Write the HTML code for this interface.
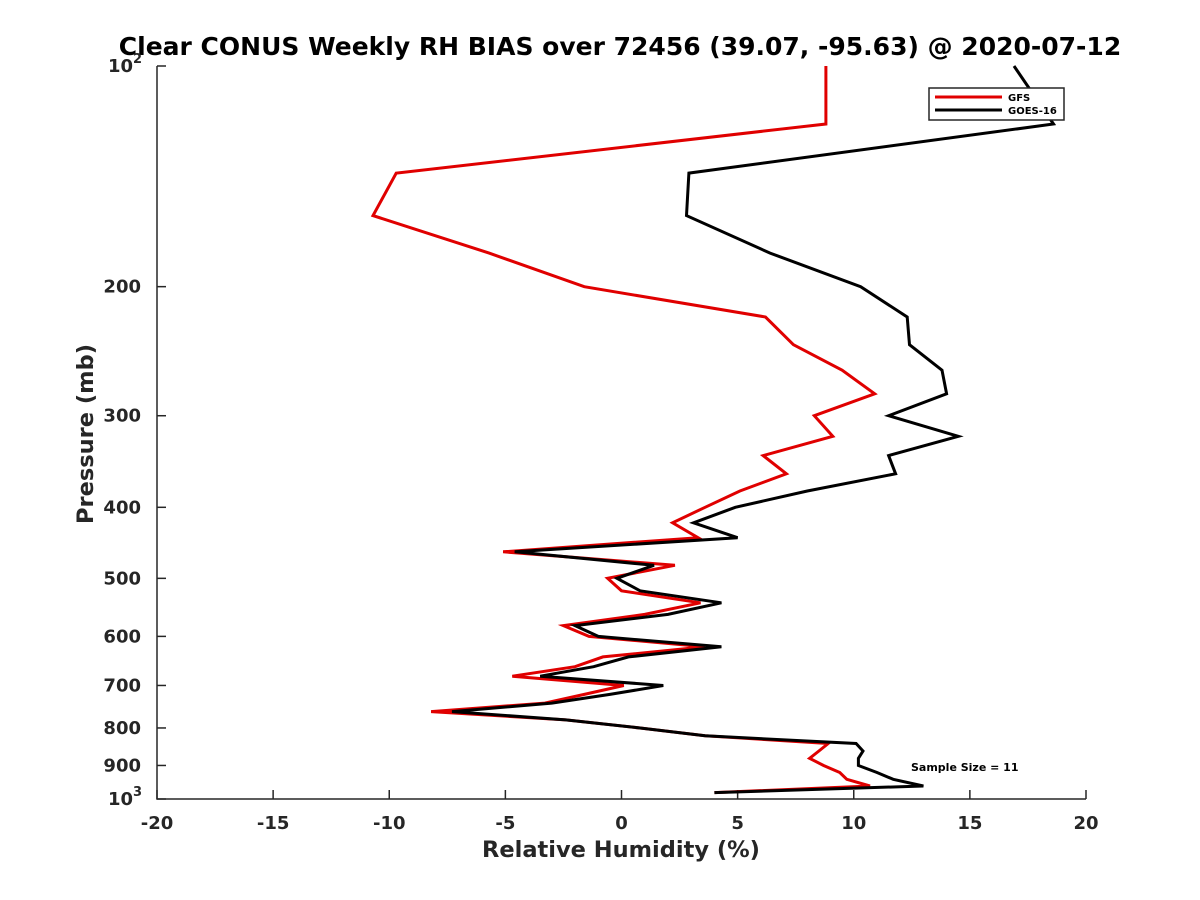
<!DOCTYPE html>
<html><head><meta charset="utf-8"><style>
body{margin:0;background:#fff;}
svg{display:block;font-family:"DejaVu Sans","Liberation Sans",sans-serif;font-weight:bold;}
</style></head><body>
<svg id="chart" width="1200" height="900" viewBox="0 0 1200 900" xmlns="http://www.w3.org/2000/svg">
<rect width="1200" height="900" fill="#fff"/>
<text x="620" y="55" text-anchor="middle" font-size="25" fill="#000">Clear CONUS Weekly RH BIAS over 72456 (39.07, -95.63) @ 2020-07-12</text>
<g id="axes"></g>
<g id="series"></g>
<text x="621" y="857" text-anchor="middle" font-size="22.5" fill="#262626">Relative Humidity (%)</text>
<text transform="translate(93,434) rotate(-90)" text-anchor="middle" font-size="22.5" fill="#262626">Pressure (mb)</text>
<text x="911" y="771" font-size="11" fill="#000">Sample Size = 11</text>
<g>
<rect x="929" y="88" width="135" height="32" fill="#fff" stroke="#262626" stroke-width="1.5"/>
<g>
<line x1="935" y1="97" x2="1002" y2="97" stroke="#e00000" stroke-width="3"/>
<text x="1008" y="101" font-size="10" fill="#000">GFS</text></g>
<g>
<line x1="935" y1="110" x2="1002" y2="110" stroke="#000" stroke-width="3"/>
<text x="1008" y="114" font-size="10" fill="#000">GOES-16</text></g>
</g>
</svg>
<script>
const pressure=[100,120,140,160,180,200,220,240,260,280,300,320,340,360,380,400,420,440,460,480,500,520,540,560,580,600,620,640,660,680,700,720,740,760,780,800,820,840,860,880,900,920,940,960,980];
const gfsBias=[8.8,8.8,-9.7,-10.7,-5.7,-1.6,6.2,7.4,9.5,10.9,8.3,9.1,6.1,7.1,5.1,3.6,2.2,3.3,-5.1,2.3,-0.6,0.0,3.4,1.0,-2.5,-1.4,3.6,-0.8,-2.0,-4.7,0.1,-1.6,-3.3,-8.2,-2.4,0.8,3.6,8.9,8.5,8.1,8.7,9.4,9.7,10.7,4.0];
const goesBias=[16.9,18.6,2.9,2.8,6.4,10.3,12.3,12.4,13.8,14.0,11.5,14.5,11.5,11.8,8.0,4.9,3.1,5.0,-4.6,1.4,-0.2,0.8,4.3,2.0,-2.0,-1.0,4.3,0.3,-1.2,-3.5,1.8,-0.5,-3.0,-7.3,-2.4,0.8,3.6,10.1,10.4,10.2,10.2,11.0,11.7,13.0,4.0];
const xTicks=[-20,-15,-10,-5,0,5,10,15,20];
const yTicks=[100,200,300,400,500,600,700,800,900,1000];
const yTickLabels=["10²","200","300","400","500","600","700","800","900","10³"];

const L=157,R=1086,T=66,B=799;
const xMin=-20,xMax=20;
function xs(v){return L+(v-xMin)/(xMax-xMin)*(R-L);}
function ys(p){return T+(Math.log10(p)-2)*(B-T);}
const NS="http://www.w3.org/2000/svg";
function mk(tag,attrs,parent){const e=document.createElementNS(NS,tag);for(const k in attrs)e.setAttribute(k,attrs[k]);parent.appendChild(e);return e;}
const axes=document.getElementById('axes');
const ax=mk('path',{d:`M${L},${T}V${B}H${R}`,fill:'none',stroke:'#262626','stroke-width':1.5},axes);


xTicks.forEach(v=>{
  const x=xs(v);
  const t=mk('line',{x1:x,y1:B,x2:x,y2:B-9,stroke:'#262626','stroke-width':1.5},axes);
  
  
  const lb=mk('text',{x:x,y:B+30,'text-anchor':'middle','font-size':18,fill:'#262626'},axes);
  lb.textContent=v;
  
  
});
yTicks.forEach((p,i)=>{
  const y=ys(p);
  const t=mk('line',{x1:L,y1:y,x2:L+9,y2:y,stroke:'#262626','stroke-width':1.5},axes);
  
  
  const lab=yTickLabels[i];
  const lb=mk('text',{x:L-16,y:y+6,'text-anchor':'end','font-size':18,fill:'#262626'},axes);
  
  
  if(lab.length===3&&(lab[2]==='²'||lab[2]==='³')){
    lb.setAttribute('x',L-24);
    lb.textContent='10';
    const sup=mk('text',{x:L-24,y:y-3,'font-size':13,fill:'#262626'},axes);
    sup.textContent=lab[2]==='²'?'2':'3';
    
    
  } else lb.textContent=lab;
});
const series=document.getElementById('series');
function drawLine(vals,color,name){
  const d=vals.map((v,i)=>(i?'L':'M')+xs(v).toFixed(1)+','+ys(pressure[i]).toFixed(1)).join('');
  const p=mk('path',{d:d,fill:'none',stroke:color,'stroke-width':3,'stroke-linejoin':'miter'},series);
  
  
}
drawLine(gfsBias,'#e00000','gfs-line');
drawLine(goesBias,'#000','goes16-line');
</script>
</body></html>
